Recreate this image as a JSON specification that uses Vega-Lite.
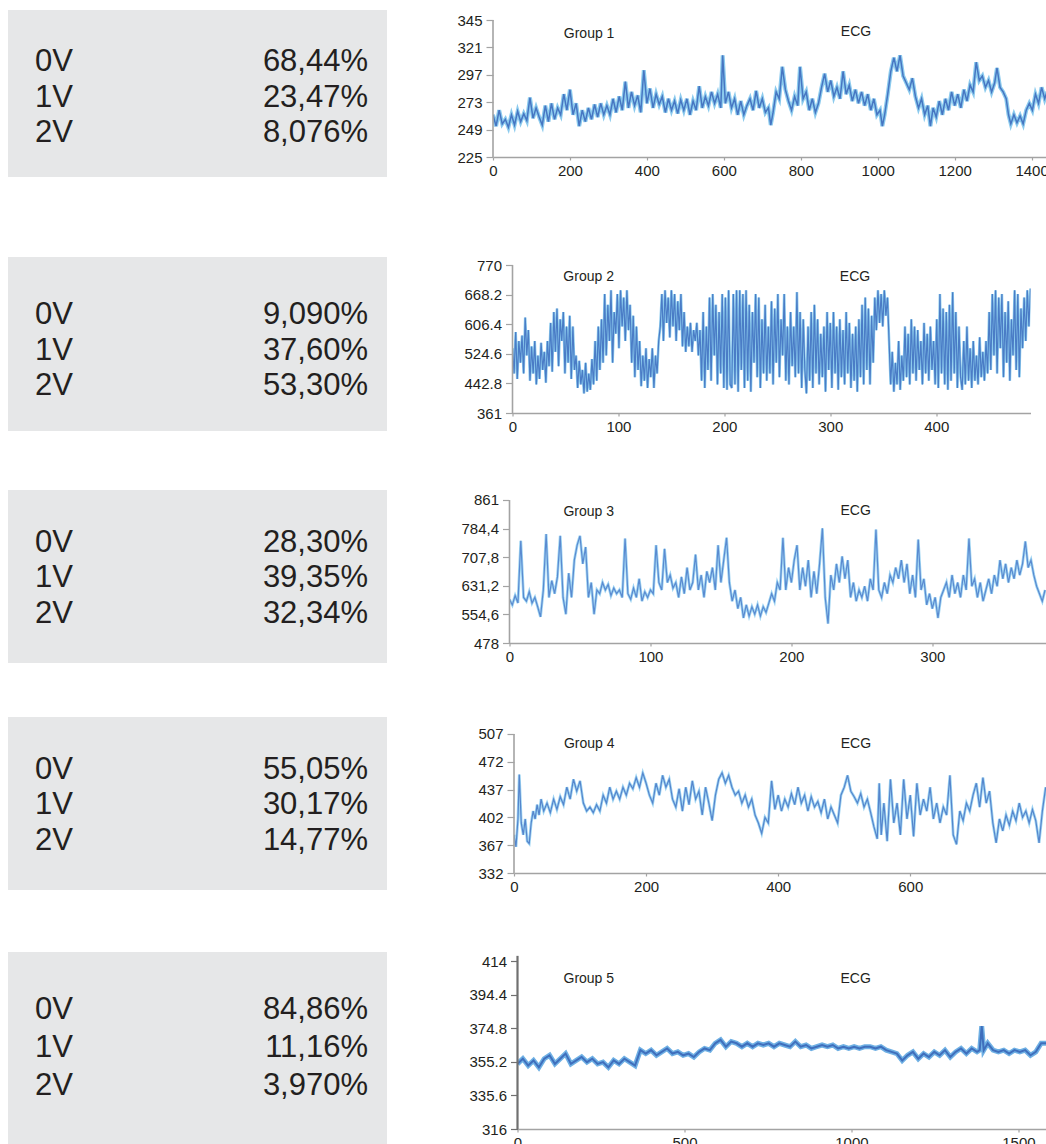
{
"$schema":"https://vega.github.io/schema/vega-lite/v6.json",
"padding":{"left":8,"top":10,"right":0,"bottom":0},
"background":"white",
"config":{"view":{"stroke":null},"font":"Liberation Sans",
 "axis":{"grid":false,"labelFont":"Liberation Sans","labelFontSize":15,"labelColor":"#231f20","domainColor":"#a3a3a3","domainWidth":1.6,"tickColor":"#a3a3a3","tickWidth":1.2,"labelOverlap":false,"tickCount":20},
 "axisY":{"tickSize":7,"labelPadding":4,"domain":false},
 "axisX":{"tickSize":3,"labelPadding":3,"labelFlush":false,"format":"d"}},
"datasets":{
"stats":[{"g":1,"volt":"0V","pct":"68,44%"},{"g":1,"volt":"1V","pct":"23,47%"},{"g":1,"volt":"2V","pct":"8,076%"},
{"g":2,"volt":"0V","pct":"9,090%"},{"g":2,"volt":"1V","pct":"37,60%"},{"g":2,"volt":"2V","pct":"53,30%"},
{"g":3,"volt":"0V","pct":"28,30%"},{"g":3,"volt":"1V","pct":"39,35%"},{"g":3,"volt":"2V","pct":"32,34%"},
{"g":4,"volt":"0V","pct":"55,05%"},{"g":4,"volt":"1V","pct":"30,17%"},{"g":4,"volt":"2V","pct":"14,77%"},
{"g":5,"volt":"0V","pct":"84,86%"},{"g":5,"volt":"1V","pct":"11,16%"},{"g":5,"volt":"2V","pct":"3,970%"}],
"g1":[{"t":0,"v":262},{"t":8,"v":252},{"t":16,"v":266},{"t":24,"v":254},{"t":32,"v":258},{"t":40,"v":251},{"t":48,"v":262},{"t":56,"v":253},{"t":64,"v":265},{"t":72,"v":256},{"t":80,"v":263},{"t":88,"v":257},{"t":96,"v":277},{"t":104,"v":259},{"t":112,"v":268},{"t":120,"v":260},{"t":128,"v":253},{"t":136,"v":270},{"t":144,"v":256},{"t":152,"v":272},{"t":160,"v":258},{"t":168,"v":268},{"t":176,"v":262},{"t":184,"v":280},{"t":192,"v":266},{"t":200,"v":284},{"t":208,"v":262},{"t":216,"v":272},{"t":224,"v":252},{"t":232,"v":266},{"t":240,"v":256},{"t":248,"v":268},{"t":256,"v":258},{"t":264,"v":271},{"t":272,"v":260},{"t":280,"v":272},{"t":288,"v":262},{"t":296,"v":270},{"t":304,"v":262},{"t":312,"v":276},{"t":320,"v":264},{"t":328,"v":278},{"t":336,"v":266},{"t":344,"v":291},{"t":352,"v":268},{"t":360,"v":282},{"t":368,"v":270},{"t":376,"v":279},{"t":384,"v":264},{"t":392,"v":301},{"t":400,"v":272},{"t":408,"v":285},{"t":416,"v":268},{"t":424,"v":280},{"t":432,"v":271},{"t":440,"v":278},{"t":448,"v":264},{"t":456,"v":276},{"t":464,"v":266},{"t":472,"v":274},{"t":480,"v":263},{"t":488,"v":275},{"t":496,"v":266},{"t":504,"v":276},{"t":512,"v":262},{"t":520,"v":274},{"t":528,"v":266},{"t":536,"v":287},{"t":544,"v":268},{"t":552,"v":278},{"t":560,"v":270},{"t":568,"v":282},{"t":576,"v":272},{"t":584,"v":280},{"t":592,"v":268},{"t":597,"v":314},{"t":604,"v":272},{"t":612,"v":282},{"t":620,"v":268},{"t":628,"v":276},{"t":636,"v":262},{"t":644,"v":274},{"t":652,"v":262},{"t":660,"v":270},{"t":668,"v":276},{"t":676,"v":266},{"t":684,"v":283},{"t":692,"v":268},{"t":700,"v":276},{"t":708,"v":264},{"t":716,"v":268},{"t":722,"v":253},{"t":728,"v":264},{"t":736,"v":282},{"t":744,"v":276},{"t":752,"v":304},{"t":760,"v":284},{"t":768,"v":274},{"t":776,"v":266},{"t":784,"v":278},{"t":792,"v":270},{"t":798,"v":304},{"t":806,"v":276},{"t":814,"v":282},{"t":822,"v":266},{"t":830,"v":276},{"t":838,"v":264},{"t":846,"v":272},{"t":854,"v":286},{"t":862,"v":298},{"t":870,"v":282},{"t":878,"v":292},{"t":886,"v":278},{"t":894,"v":286},{"t":902,"v":276},{"t":910,"v":300},{"t":918,"v":280},{"t":926,"v":288},{"t":934,"v":274},{"t":942,"v":284},{"t":950,"v":272},{"t":958,"v":282},{"t":966,"v":270},{"t":974,"v":280},{"t":982,"v":266},{"t":990,"v":276},{"t":998,"v":262},{"t":1006,"v":266},{"t":1012,"v":252},{"t":1018,"v":262},{"t":1026,"v":280},{"t":1034,"v":300},{"t":1042,"v":312},{"t":1050,"v":300},{"t":1058,"v":314},{"t":1066,"v":296},{"t":1074,"v":290},{"t":1082,"v":284},{"t":1090,"v":294},{"t":1098,"v":278},{"t":1106,"v":268},{"t":1114,"v":276},{"t":1122,"v":262},{"t":1130,"v":270},{"t":1137,"v":252},{"t":1144,"v":268},{"t":1152,"v":260},{"t":1160,"v":274},{"t":1168,"v":262},{"t":1176,"v":276},{"t":1184,"v":266},{"t":1192,"v":282},{"t":1200,"v":270},{"t":1208,"v":280},{"t":1216,"v":268},{"t":1224,"v":284},{"t":1232,"v":274},{"t":1240,"v":288},{"t":1248,"v":282},{"t":1256,"v":308},{"t":1264,"v":292},{"t":1272,"v":296},{"t":1280,"v":286},{"t":1288,"v":292},{"t":1296,"v":282},{"t":1304,"v":290},{"t":1310,"v":303},{"t":1318,"v":286},{"t":1326,"v":282},{"t":1334,"v":276},{"t":1340,"v":262},{"t":1346,"v":254},{"t":1354,"v":262},{"t":1362,"v":255},{"t":1370,"v":261},{"t":1378,"v":254},{"t":1386,"v":266},{"t":1394,"v":272},{"t":1402,"v":266},{"t":1410,"v":280},{"t":1418,"v":272},{"t":1426,"v":286},{"t":1434,"v":276},{"t":1440,"v":282}],
"g2":[{"t":0,"v":540},{"t":1.5,"v":470},{"t":3,"v":585},{"t":4.5,"v":455},{"t":6,"v":560},{"t":7.5,"v":500},{"t":9,"v":575},{"t":10.5,"v":470},{"t":12,"v":625},{"t":13.5,"v":520},{"t":15,"v":590},{"t":16.5,"v":450},{"t":18,"v":545},{"t":19.5,"v":470},{"t":21,"v":560},{"t":22.5,"v":440},{"t":24,"v":520},{"t":25.5,"v":455},{"t":27,"v":555},{"t":28.5,"v":480},{"t":30,"v":530},{"t":31.5,"v":445},{"t":33,"v":560},{"t":34.5,"v":490},{"t":36,"v":610},{"t":37.5,"v":475},{"t":39,"v":640},{"t":40.5,"v":530},{"t":42,"v":650},{"t":43.5,"v":490},{"t":45,"v":620},{"t":46.5,"v":560},{"t":48,"v":640},{"t":49.5,"v":470},{"t":51,"v":600},{"t":52.5,"v":500},{"t":54,"v":630},{"t":55.5,"v":455},{"t":57,"v":600},{"t":58.5,"v":480},{"t":60,"v":520},{"t":61.5,"v":430},{"t":63,"v":505},{"t":64.5,"v":440},{"t":66,"v":480},{"t":67.5,"v":415},{"t":69,"v":500},{"t":70.5,"v":420},{"t":72,"v":470},{"t":73.5,"v":425},{"t":75,"v":510},{"t":76.5,"v":440},{"t":78,"v":560},{"t":79.5,"v":450},{"t":81,"v":600},{"t":82.5,"v":480},{"t":84,"v":620},{"t":85.5,"v":500},{"t":87,"v":690},{"t":88.5,"v":520},{"t":90,"v":660},{"t":91.5,"v":560},{"t":93,"v":700},{"t":94.5,"v":500},{"t":96,"v":640},{"t":97.5,"v":580},{"t":99,"v":690},{"t":100.5,"v":540},{"t":102,"v":700},{"t":103.5,"v":600},{"t":105,"v":680},{"t":106.5,"v":560},{"t":108,"v":700},{"t":109.5,"v":590},{"t":111,"v":660},{"t":112.5,"v":500},{"t":114,"v":630},{"t":115.5,"v":460},{"t":117,"v":600},{"t":118.5,"v":480},{"t":120,"v":560},{"t":121.5,"v":435},{"t":123,"v":520},{"t":124.5,"v":450},{"t":126,"v":540},{"t":127.5,"v":430},{"t":129,"v":510},{"t":130.5,"v":460},{"t":132,"v":540},{"t":133.5,"v":430},{"t":135,"v":520},{"t":136.5,"v":470},{"t":138,"v":560},{"t":139.5,"v":600},{"t":141,"v":690},{"t":142.5,"v":560},{"t":144,"v":700},{"t":145.5,"v":610},{"t":147,"v":680},{"t":148.5,"v":570},{"t":150,"v":700},{"t":151.5,"v":600},{"t":153,"v":690},{"t":154.5,"v":560},{"t":156,"v":670},{"t":157.5,"v":590},{"t":159,"v":690},{"t":160.5,"v":545},{"t":162,"v":640},{"t":163.5,"v":530},{"t":165,"v":600},{"t":166.5,"v":545},{"t":168,"v":610},{"t":169.5,"v":530},{"t":171,"v":590},{"t":172.5,"v":560},{"t":174,"v":610},{"t":175.5,"v":520},{"t":177,"v":590},{"t":178.5,"v":450},{"t":180,"v":640},{"t":181.5,"v":430},{"t":183,"v":600},{"t":184.5,"v":480},{"t":186,"v":680},{"t":187.5,"v":450},{"t":189,"v":690},{"t":190.5,"v":520},{"t":192,"v":660},{"t":193.5,"v":440},{"t":195,"v":640},{"t":196.5,"v":470},{"t":198,"v":690},{"t":199.5,"v":430},{"t":201,"v":680},{"t":202.5,"v":425},{"t":204,"v":700},{"t":205.5,"v":440},{"t":207,"v":430},{"t":208.5,"v":690},{"t":210,"v":440},{"t":211.5,"v":700},{"t":213,"v":420},{"t":214.5,"v":700},{"t":216,"v":480},{"t":217.5,"v":690},{"t":219,"v":430},{"t":220.5,"v":700},{"t":222,"v":450},{"t":223.5,"v":660},{"t":225,"v":420},{"t":226.5,"v":640},{"t":228,"v":500},{"t":229.5,"v":690},{"t":231,"v":460},{"t":232.5,"v":680},{"t":234,"v":430},{"t":235.5,"v":620},{"t":237,"v":470},{"t":238.5,"v":660},{"t":240,"v":450},{"t":241.5,"v":600},{"t":243,"v":470},{"t":244.5,"v":670},{"t":246,"v":440},{"t":247.5,"v":650},{"t":249,"v":500},{"t":250.5,"v":690},{"t":252,"v":460},{"t":253.5,"v":620},{"t":255,"v":520},{"t":256.5,"v":690},{"t":258,"v":450},{"t":259.5,"v":600},{"t":261,"v":440},{"t":262.5,"v":640},{"t":264,"v":490},{"t":265.5,"v":600},{"t":267,"v":460},{"t":268.5,"v":695},{"t":270,"v":470},{"t":271.5,"v":640},{"t":273,"v":430},{"t":274.5,"v":620},{"t":276,"v":480},{"t":277.5,"v":415},{"t":279,"v":600},{"t":280.5,"v":450},{"t":282,"v":640},{"t":283.5,"v":430},{"t":285,"v":660},{"t":286.5,"v":470},{"t":288,"v":620},{"t":289.5,"v":440},{"t":291,"v":580},{"t":292.5,"v":460},{"t":294,"v":600},{"t":295.5,"v":420},{"t":297,"v":640},{"t":298.5,"v":480},{"t":300,"v":610},{"t":301.5,"v":430},{"t":303,"v":640},{"t":304.5,"v":470},{"t":306,"v":600},{"t":307.5,"v":425},{"t":309,"v":620},{"t":310.5,"v":460},{"t":312,"v":590},{"t":313.5,"v":440},{"t":315,"v":640},{"t":316.5,"v":470},{"t":318,"v":610},{"t":319.5,"v":430},{"t":321,"v":580},{"t":322.5,"v":450},{"t":324,"v":600},{"t":325.5,"v":420},{"t":327,"v":620},{"t":328.5,"v":460},{"t":330,"v":660},{"t":331.5,"v":440},{"t":333,"v":680},{"t":334.5,"v":480},{"t":336,"v":650},{"t":337.5,"v":440},{"t":339,"v":630},{"t":340.5,"v":500},{"t":342,"v":680},{"t":343.5,"v":590},{"t":345,"v":700},{"t":346.5,"v":610},{"t":348,"v":690},{"t":349.5,"v":600},{"t":351,"v":700},{"t":352.5,"v":630},{"t":354,"v":680},{"t":355.5,"v":560},{"t":357,"v":440},{"t":358.5,"v":530},{"t":360,"v":420},{"t":361.5,"v":500},{"t":363,"v":440},{"t":364.5,"v":560},{"t":366,"v":425},{"t":367.5,"v":520},{"t":369,"v":450},{"t":370.5,"v":600},{"t":372,"v":460},{"t":373.5,"v":580},{"t":375,"v":440},{"t":376.5,"v":620},{"t":378,"v":470},{"t":379.5,"v":600},{"t":381,"v":450},{"t":382.5,"v":590},{"t":384,"v":480},{"t":385.5,"v":560},{"t":387,"v":440},{"t":388.5,"v":610},{"t":390,"v":470},{"t":391.5,"v":580},{"t":393,"v":450},{"t":394.5,"v":600},{"t":396,"v":480},{"t":397.5,"v":560},{"t":399,"v":440},{"t":400.5,"v":620},{"t":402,"v":430},{"t":403.5,"v":690},{"t":405,"v":470},{"t":406.5,"v":650},{"t":408,"v":440},{"t":409.5,"v":640},{"t":411,"v":425},{"t":412.5,"v":660},{"t":414,"v":450},{"t":415.5,"v":695},{"t":417,"v":470},{"t":418.5,"v":640},{"t":420,"v":430},{"t":421.5,"v":600},{"t":423,"v":460},{"t":424.5,"v":425},{"t":426,"v":560},{"t":427.5,"v":440},{"t":429,"v":600},{"t":430.5,"v":450},{"t":432,"v":540},{"t":433.5,"v":430},{"t":435,"v":560},{"t":436.5,"v":450},{"t":438,"v":520},{"t":439.5,"v":440},{"t":441,"v":570},{"t":442.5,"v":460},{"t":444,"v":530},{"t":445.5,"v":450},{"t":447,"v":560},{"t":448.5,"v":470},{"t":450,"v":640},{"t":451.5,"v":480},{"t":453,"v":690},{"t":454.5,"v":520},{"t":456,"v":700},{"t":457.5,"v":470},{"t":459,"v":680},{"t":460.5,"v":540},{"t":462,"v":690},{"t":463.5,"v":460},{"t":465,"v":640},{"t":466.5,"v":500},{"t":468,"v":670},{"t":469.5,"v":450},{"t":471,"v":620},{"t":472.5,"v":520},{"t":474,"v":700},{"t":475.5,"v":480},{"t":477,"v":690},{"t":478.5,"v":460},{"t":480,"v":650},{"t":481.5,"v":540},{"t":483,"v":680},{"t":484.5,"v":560},{"t":486,"v":700},{"t":487.5,"v":600},{"t":489,"v":705}],
"g3":[{"t":0,"v":595},{"t":2,"v":580},{"t":4,"v":605},{"t":6,"v":585},{"t":8,"v":752},{"t":10,"v":600},{"t":12,"v":590},{"t":14,"v":615},{"t":16,"v":585},{"t":18,"v":600},{"t":20,"v":575},{"t":22,"v":548},{"t":24,"v":620},{"t":26,"v":770},{"t":28,"v":600},{"t":30,"v":645},{"t":32,"v":610},{"t":34,"v":655},{"t":36,"v":765},{"t":38,"v":600},{"t":40,"v":555},{"t":42,"v":665},{"t":44,"v":600},{"t":46,"v":700},{"t":48,"v":740},{"t":50,"v":765},{"t":52,"v":690},{"t":54,"v":735},{"t":56,"v":600},{"t":58,"v":640},{"t":60,"v":555},{"t":62,"v":620},{"t":64,"v":610},{"t":66,"v":640},{"t":68,"v":620},{"t":70,"v":635},{"t":72,"v":605},{"t":74,"v":625},{"t":76,"v":610},{"t":78,"v":620},{"t":80,"v":600},{"t":82,"v":758},{"t":84,"v":610},{"t":86,"v":595},{"t":88,"v":625},{"t":90,"v":600},{"t":92,"v":650},{"t":94,"v":590},{"t":96,"v":615},{"t":98,"v":600},{"t":100,"v":620},{"t":102,"v":610},{"t":104,"v":740},{"t":106,"v":640},{"t":108,"v":620},{"t":110,"v":730},{"t":112,"v":640},{"t":114,"v":660},{"t":116,"v":625},{"t":118,"v":640},{"t":120,"v":600},{"t":122,"v":655},{"t":124,"v":610},{"t":126,"v":680},{"t":128,"v":620},{"t":130,"v":640},{"t":132,"v":715},{"t":134,"v":620},{"t":136,"v":660},{"t":138,"v":600},{"t":140,"v":670},{"t":142,"v":640},{"t":144,"v":680},{"t":146,"v":620},{"t":148,"v":740},{"t":150,"v":640},{"t":152,"v":700},{"t":154,"v":760},{"t":156,"v":640},{"t":158,"v":590},{"t":160,"v":620},{"t":162,"v":570},{"t":164,"v":600},{"t":166,"v":545},{"t":168,"v":580},{"t":170,"v":550},{"t":172,"v":575},{"t":174,"v":555},{"t":176,"v":580},{"t":178,"v":550},{"t":180,"v":575},{"t":182,"v":560},{"t":184,"v":585},{"t":186,"v":610},{"t":188,"v":590},{"t":190,"v":640},{"t":192,"v":620},{"t":194,"v":760},{"t":196,"v":620},{"t":198,"v":680},{"t":200,"v":640},{"t":202,"v":700},{"t":204,"v":740},{"t":206,"v":620},{"t":208,"v":680},{"t":210,"v":630},{"t":212,"v":700},{"t":214,"v":600},{"t":216,"v":670},{"t":218,"v":610},{"t":220,"v":690},{"t":222,"v":785},{"t":224,"v":600},{"t":226,"v":530},{"t":228,"v":660},{"t":230,"v":620},{"t":232,"v":690},{"t":234,"v":640},{"t":236,"v":710},{"t":238,"v":650},{"t":240,"v":700},{"t":242,"v":600},{"t":244,"v":640},{"t":246,"v":590},{"t":248,"v":620},{"t":250,"v":600},{"t":252,"v":630},{"t":254,"v":590},{"t":256,"v":650},{"t":258,"v":620},{"t":260,"v":782},{"t":262,"v":620},{"t":264,"v":600},{"t":266,"v":640},{"t":268,"v":610},{"t":270,"v":660},{"t":272,"v":640},{"t":274,"v":680},{"t":276,"v":650},{"t":278,"v":700},{"t":280,"v":640},{"t":282,"v":690},{"t":284,"v":610},{"t":286,"v":660},{"t":288,"v":600},{"t":290,"v":755},{"t":292,"v":620},{"t":294,"v":650},{"t":296,"v":580},{"t":298,"v":610},{"t":300,"v":570},{"t":302,"v":600},{"t":304,"v":545},{"t":306,"v":600},{"t":308,"v":620},{"t":310,"v":640},{"t":312,"v":600},{"t":314,"v":660},{"t":316,"v":610},{"t":318,"v":640},{"t":320,"v":600},{"t":322,"v":660},{"t":324,"v":620},{"t":326,"v":758},{"t":328,"v":630},{"t":330,"v":650},{"t":332,"v":600},{"t":334,"v":640},{"t":336,"v":590},{"t":338,"v":620},{"t":340,"v":650},{"t":342,"v":610},{"t":344,"v":660},{"t":346,"v":630},{"t":348,"v":700},{"t":350,"v":650},{"t":352,"v":690},{"t":354,"v":640},{"t":356,"v":680},{"t":358,"v":650},{"t":360,"v":700},{"t":362,"v":660},{"t":364,"v":690},{"t":366,"v":750},{"t":368,"v":680},{"t":370,"v":700},{"t":372,"v":660},{"t":374,"v":630},{"t":376,"v":610},{"t":378,"v":590},{"t":380,"v":620}],
"g4":[{"t":0,"v":380},{"t":3,"v":365},{"t":6,"v":400},{"t":8,"v":456},{"t":11,"v":395},{"t":14,"v":380},{"t":17,"v":400},{"t":20,"v":372},{"t":23,"v":369},{"t":26,"v":395},{"t":29,"v":410},{"t":32,"v":400},{"t":35,"v":418},{"t":38,"v":405},{"t":41,"v":425},{"t":45,"v":410},{"t":50,"v":420},{"t":55,"v":408},{"t":60,"v":425},{"t":65,"v":412},{"t":70,"v":428},{"t":75,"v":418},{"t":80,"v":440},{"t":85,"v":425},{"t":90,"v":450},{"t":95,"v":435},{"t":100,"v":448},{"t":105,"v":420},{"t":110,"v":410},{"t":115,"v":415},{"t":120,"v":408},{"t":125,"v":418},{"t":130,"v":410},{"t":135,"v":430},{"t":140,"v":420},{"t":145,"v":440},{"t":150,"v":425},{"t":155,"v":435},{"t":160,"v":425},{"t":165,"v":440},{"t":170,"v":430},{"t":175,"v":445},{"t":180,"v":438},{"t":185,"v":452},{"t":190,"v":440},{"t":195,"v":458},{"t":200,"v":445},{"t":205,"v":430},{"t":210,"v":420},{"t":215,"v":445},{"t":220,"v":430},{"t":225,"v":455},{"t":230,"v":440},{"t":235,"v":450},{"t":240,"v":425},{"t":245,"v":415},{"t":250,"v":438},{"t":255,"v":410},{"t":260,"v":440},{"t":265,"v":418},{"t":270,"v":448},{"t":275,"v":425},{"t":280,"v":435},{"t":285,"v":405},{"t":290,"v":440},{"t":295,"v":420},{"t":300,"v":398},{"t":305,"v":430},{"t":310,"v":450},{"t":315,"v":458},{"t":320,"v":445},{"t":325,"v":455},{"t":330,"v":440},{"t":335,"v":430},{"t":340,"v":435},{"t":345,"v":420},{"t":350,"v":430},{"t":355,"v":415},{"t":360,"v":425},{"t":365,"v":405},{"t":370,"v":395},{"t":375,"v":382},{"t":380,"v":402},{"t":385,"v":395},{"t":390,"v":448},{"t":395,"v":412},{"t":400,"v":430},{"t":405,"v":410},{"t":410,"v":425},{"t":415,"v":415},{"t":420,"v":432},{"t":425,"v":418},{"t":430,"v":440},{"t":435,"v":420},{"t":440,"v":430},{"t":445,"v":410},{"t":450,"v":428},{"t":455,"v":415},{"t":460,"v":422},{"t":465,"v":408},{"t":470,"v":425},{"t":475,"v":400},{"t":480,"v":415},{"t":485,"v":405},{"t":490,"v":395},{"t":495,"v":430},{"t":500,"v":440},{"t":505,"v":455},{"t":510,"v":435},{"t":515,"v":428},{"t":520,"v":420},{"t":525,"v":432},{"t":530,"v":415},{"t":535,"v":425},{"t":540,"v":408},{"t":545,"v":390},{"t":550,"v":375},{"t":553,"v":445},{"t":556,"v":380},{"t":560,"v":420},{"t":565,"v":372},{"t":570,"v":450},{"t":575,"v":395},{"t":580,"v":420},{"t":585,"v":380},{"t":590,"v":450},{"t":595,"v":400},{"t":600,"v":430},{"t":605,"v":378},{"t":610,"v":445},{"t":615,"v":405},{"t":620,"v":425},{"t":625,"v":410},{"t":630,"v":440},{"t":635,"v":400},{"t":640,"v":420},{"t":645,"v":395},{"t":650,"v":415},{"t":655,"v":405},{"t":660,"v":455},{"t":665,"v":380},{"t":670,"v":368},{"t":675,"v":410},{"t":680,"v":398},{"t":685,"v":420},{"t":690,"v":410},{"t":695,"v":430},{"t":700,"v":445},{"t":705,"v":415},{"t":710,"v":452},{"t":715,"v":420},{"t":720,"v":435},{"t":725,"v":395},{"t":730,"v":370},{"t":735,"v":400},{"t":740,"v":385},{"t":745,"v":405},{"t":750,"v":392},{"t":755,"v":410},{"t":760,"v":398},{"t":765,"v":420},{"t":770,"v":402},{"t":775,"v":410},{"t":780,"v":395},{"t":785,"v":412},{"t":790,"v":398},{"t":795,"v":370},{"t":800,"v":410},{"t":805,"v":440}],
"g5":[{"t":0,"v":354},{"t":16,"v":357},{"t":32,"v":353},{"t":48,"v":356},{"t":64,"v":352},{"t":80,"v":357},{"t":96,"v":359},{"t":112,"v":354},{"t":128,"v":357},{"t":144,"v":360},{"t":160,"v":354},{"t":176,"v":356},{"t":192,"v":358},{"t":208,"v":355},{"t":224,"v":357},{"t":240,"v":354},{"t":256,"v":355},{"t":272,"v":352},{"t":288,"v":356},{"t":304,"v":354},{"t":320,"v":357},{"t":336,"v":355},{"t":352,"v":353},{"t":368,"v":362},{"t":384,"v":360},{"t":400,"v":362},{"t":416,"v":359},{"t":432,"v":361},{"t":448,"v":363},{"t":464,"v":360},{"t":480,"v":361},{"t":496,"v":359},{"t":512,"v":360},{"t":528,"v":358},{"t":544,"v":361},{"t":560,"v":363},{"t":576,"v":362},{"t":592,"v":366},{"t":608,"v":368},{"t":624,"v":364},{"t":640,"v":367},{"t":656,"v":366},{"t":672,"v":364},{"t":688,"v":366},{"t":704,"v":364},{"t":720,"v":366},{"t":736,"v":365},{"t":752,"v":366},{"t":768,"v":364},{"t":784,"v":366},{"t":800,"v":365},{"t":816,"v":364},{"t":832,"v":367},{"t":848,"v":364},{"t":864,"v":365},{"t":880,"v":363},{"t":896,"v":364},{"t":912,"v":365},{"t":928,"v":364},{"t":944,"v":365},{"t":960,"v":363},{"t":976,"v":364},{"t":992,"v":363},{"t":1008,"v":364},{"t":1024,"v":363},{"t":1040,"v":364},{"t":1056,"v":364},{"t":1072,"v":363},{"t":1088,"v":364},{"t":1104,"v":362},{"t":1120,"v":361},{"t":1136,"v":360},{"t":1152,"v":356},{"t":1168,"v":359},{"t":1184,"v":361},{"t":1200,"v":357},{"t":1216,"v":360},{"t":1232,"v":358},{"t":1248,"v":361},{"t":1264,"v":359},{"t":1280,"v":362},{"t":1296,"v":358},{"t":1312,"v":361},{"t":1328,"v":363},{"t":1344,"v":360},{"t":1360,"v":363},{"t":1376,"v":361},{"t":1384,"v":362},{"t":1390,"v":376},{"t":1396,"v":362},{"t":1408,"v":366},{"t":1424,"v":362},{"t":1440,"v":361},{"t":1456,"v":362},{"t":1472,"v":360},{"t":1488,"v":362},{"t":1504,"v":361},{"t":1520,"v":362},{"t":1536,"v":359},{"t":1552,"v":361},{"t":1568,"v":366},{"t":1584,"v":366}]
},
"spacing":79,
"vconcat":[
 {"concat":[
  {"width":379,"height":167,"view":{"fill":"#e6e7e8","stroke":null},
   "data":{"name":"stats"},"transform":[{"filter":"datum.g == 1"},{"fold":["volt","pct"]}],
   "encoding":{"x":{"field":"key","type":"nominal","scale":{"type":"point","domain":["volt","pct"],"padding":0.069,"align":0.587},"axis":null},
               "y":{"field":"volt","type":"nominal","scale":{"type":"band","domain":["0V","1V","2V"],"paddingInner":0,"paddingOuter":0.852,"align":0.573},"axis":null},
               "text":{"field":"value"}},
   "layer":[
    {"transform":[{"filter":"datum.key == 'volt'"}],"mark":{"type":"text","align":"left","baseline":"middle","fontSize":31,"font":"Liberation Sans","color":"#231f20"}},
    {"transform":[{"filter":"datum.key == 'pct'"}],"mark":{"type":"text","align":"right","baseline":"middle","fontSize":31,"font":"Liberation Sans","color":"#231f20"}}]},
  {"width":554,"height":147,
   "layer":[
    {"data":{"name":"g1"},"mark":{"type":"line","stroke":"#8ccbee","strokeWidth":4,"clip":true},
     "encoding":{"x":{"field":"t","type":"quantitative","scale":{"domain":[0,1440],"nice":false,"zero":false},"axis":{"title":null,"values":[0,200,400,600,800,1000,1200,1400],"tickCount":20}},
                 "y":{"field":"v","type":"quantitative","scale":{"domain":[225,353.76],"nice":false,"zero":false},"axis":{"title":null,"values":[225,249,273,297,321,345],"tickCount":20}}}},
    {"data":{"name":"g1"},"mark":{"type":"line","stroke":"#4676c2","strokeWidth":1.5,"clip":true},
     "encoding":{"x":{"field":"t","type":"quantitative"},"y":{"field":"v","type":"quantitative"}}},
    {"data":{"values":[{}]},"mark":{"type":"rule","color":"#a3a3a3","strokeWidth":1.6},
     "encoding":{"x":{"datum":0},"y":{"datum":225},"y2":{"datum":345}}},
    {"data":{"values":[{"label":"Group 1"}]},"mark":{"type":"text","align":"left","baseline":"middle","fontSize":14,"font":"Liberation Sans","color":"#231f20"},
     "encoding":{"x":{"datum":184},"y":{"datum":332.7},"text":{"field":"label"}}},
    {"data":{"values":[{"label":"ECG"}]},"mark":{"type":"text","align":"left","baseline":"middle","fontSize":14,"font":"Liberation Sans","color":"#231f20"},
     "encoding":{"x":{"datum":904},"y":{"datum":334.5},"text":{"field":"label"}}}]}
 ],"columns":2,"align":"none","spacing":69},
 {"spacing":56,"vconcat":[
  {"concat":[
   {"width":379,"height":174,"view":{"fill":"#e6e7e8","stroke":null},
    "data":{"name":"stats"},"transform":[{"filter":"datum.g == 2"},{"fold":["volt","pct"]}],
    "encoding":{"x":{"field":"key","type":"nominal","scale":{"type":"point","domain":["volt","pct"],"padding":0.069,"align":0.587},"axis":null},
                "y":{"field":"volt","type":"nominal","scale":{"type":"band","domain":["0V","1V","2V"],"paddingInner":0,"paddingOuter":0.951,"align":0.6},"axis":null},
                "text":{"field":"value"}},
    "layer":[
     {"transform":[{"filter":"datum.key == 'volt'"}],"mark":{"type":"text","align":"left","baseline":"middle","fontSize":31,"font":"Liberation Sans","color":"#231f20"}},
     {"transform":[{"filter":"datum.key == 'pct'"}],"mark":{"type":"text","align":"right","baseline":"middle","fontSize":31,"font":"Liberation Sans","color":"#231f20"}}]},
   {"width":518,"height":156,
    "layer":[
     {"data":{"name":"g2"},"mark":{"type":"line","stroke":"#8ccbee","strokeWidth":2.6,"clip":true},
      "encoding":{"x":{"field":"t","type":"quantitative","scale":{"domain":[0,489],"nice":false,"zero":false},"axis":{"title":null,"values":[0,100,200,300,400],"tickCount":20}},
                  "y":{"field":"v","type":"quantitative","scale":{"domain":[361,792.11],"nice":false,"zero":false},"axis":{"title":null,"values":[361,442.8,524.6,606.4,688.2,770],"tickCount":20,"labelExpr":"datum.value == 688.2 ? '668.2' : toString(datum.value)"}}}},
     {"data":{"name":"g2"},"mark":{"type":"line","stroke":"#4a7cc6","strokeWidth":1.2,"clip":true},
      "encoding":{"x":{"field":"t","type":"quantitative"},"y":{"field":"v","type":"quantitative"}}},
     {"data":{"values":[{}]},"mark":{"type":"rule","color":"#a3a3a3","strokeWidth":1.6},
      "encoding":{"x":{"datum":0},"y":{"datum":361},"y2":{"datum":770}}},
     {"data":{"values":[{"label":"Group 2"}]},"mark":{"type":"text","align":"left","baseline":"middle","fontSize":14,"font":"Liberation Sans","color":"#231f20"},
      "encoding":{"x":{"datum":48},"y":{"datum":736.8},"text":{"field":"label"}}},
     {"data":{"values":[{"label":"ECG"}]},"mark":{"type":"text","align":"left","baseline":"middle","fontSize":14,"font":"Liberation Sans","color":"#231f20"},
      "encoding":{"x":{"datum":309},"y":{"datum":736.8},"text":{"field":"label"}}}]}
  ],"columns":2,"align":"none","spacing":76.5},
  {"spacing":53,"vconcat":[
   {"concat":[
    {"width":379,"height":173,"view":{"fill":"#e6e7e8","stroke":null},
     "data":{"name":"stats"},"transform":[{"filter":"datum.g == 3"},{"fold":["volt","pct"]}],
     "encoding":{"x":{"field":"key","type":"nominal","scale":{"type":"point","domain":["volt","pct"],"padding":0.069,"align":0.587},"axis":null},
                 "y":{"field":"volt","type":"nominal","scale":{"type":"band","domain":["0V","1V","2V"],"paddingInner":0,"paddingOuter":0.937,"align":0.53},"axis":null},
                 "text":{"field":"value"}},
     "layer":[
      {"transform":[{"filter":"datum.key == 'volt'"}],"mark":{"type":"text","align":"left","baseline":"middle","fontSize":31,"font":"Liberation Sans","color":"#231f20"}},
      {"transform":[{"filter":"datum.key == 'pct'"}],"mark":{"type":"text","align":"right","baseline":"middle","fontSize":31,"font":"Liberation Sans","color":"#231f20"}}]},
    {"width":537,"height":153,
     "layer":[
      {"data":{"name":"g3"},"mark":{"type":"line","stroke":"#9fd5f3","strokeWidth":2.8,"clip":true},
       "encoding":{"x":{"field":"t","type":"quantitative","scale":{"domain":[0,381],"nice":false,"zero":false},"axis":{"title":null,"values":[0,100,200,300],"tickCount":20}},
                   "y":{"field":"v","type":"quantitative","scale":{"domain":[478,887.78],"nice":false,"zero":false},"axis":{"title":null,"values":[478,554.6,631.2,707.8,784.4,861],"tickCount":20,"labelExpr":"replace(toString(datum.value), '.', ',')"}}}},
      {"data":{"name":"g3"},"mark":{"type":"line","stroke":"#5a8ad0","strokeWidth":1.2,"clip":true},
       "encoding":{"x":{"field":"t","type":"quantitative"},"y":{"field":"v","type":"quantitative"}}},
      {"data":{"values":[{}]},"mark":{"type":"rule","color":"#a3a3a3","strokeWidth":1.6},
       "encoding":{"x":{"datum":0},"y":{"datum":478},"y2":{"datum":861}}},
      {"data":{"values":[{"label":"Group 3"}]},"mark":{"type":"text","align":"left","baseline":"middle","fontSize":14,"font":"Liberation Sans","color":"#231f20"},
       "encoding":{"x":{"datum":38.3},"y":{"datum":829},"text":{"field":"label"}}},
      {"data":{"values":[{"label":"ECG"}]},"mark":{"type":"text","align":"left","baseline":"middle","fontSize":14,"font":"Liberation Sans","color":"#231f20"},
       "encoding":{"x":{"datum":234.8},"y":{"datum":831},"text":{"field":"label"}}}]}
   ],"columns":2,"align":"none","spacing":73.5},
   {"spacing":58,"vconcat":[
    {"concat":[
     {"width":379,"height":173,"view":{"fill":"#e6e7e8","stroke":null},
      "data":{"name":"stats"},"transform":[{"filter":"datum.g == 4"},{"fold":["volt","pct"]}],
      "encoding":{"x":{"field":"key","type":"nominal","scale":{"type":"point","domain":["volt","pct"],"padding":0.069,"align":0.587},"axis":null},
                  "y":{"field":"volt","type":"nominal","scale":{"type":"band","domain":["0V","1V","2V"],"paddingInner":0,"paddingOuter":0.937,"align":0.53},"axis":null},
                  "text":{"field":"value"}},
      "layer":[
       {"transform":[{"filter":"datum.key == 'volt'"}],"mark":{"type":"text","align":"left","baseline":"middle","fontSize":31,"font":"Liberation Sans","color":"#231f20"}},
       {"transform":[{"filter":"datum.key == 'pct'"}],"mark":{"type":"text","align":"right","baseline":"middle","fontSize":31,"font":"Liberation Sans","color":"#231f20"}}]},
     {"width":533,"height":156,
      "layer":[
       {"data":{"name":"g4"},"mark":{"type":"line","stroke":"#9fd5f3","strokeWidth":2.8,"clip":true},
        "encoding":{"x":{"field":"t","type":"quantitative","scale":{"domain":[0,807],"nice":false,"zero":false},"axis":{"title":null,"values":[0,200,400,600],"tickCount":20}},
                    "y":{"field":"v","type":"quantitative","scale":{"domain":[332,528.4],"nice":false,"zero":false},"axis":{"title":null,"values":[332,367,402,437,472,507],"tickCount":20}}}},
       {"data":{"name":"g4"},"mark":{"type":"line","stroke":"#5585cc","strokeWidth":1.2,"clip":true},
        "encoding":{"x":{"field":"t","type":"quantitative"},"y":{"field":"v","type":"quantitative"}}},
       {"data":{"values":[{}]},"mark":{"type":"rule","color":"#a3a3a3","strokeWidth":1.6},
        "encoding":{"x":{"datum":0},"y":{"datum":332},"y2":{"datum":507}}},
       {"data":{"values":[{"label":"Group 4"}]},"mark":{"type":"text","align":"left","baseline":"middle","fontSize":14,"font":"Liberation Sans","color":"#231f20"},
        "encoding":{"x":{"datum":75.6},"y":{"datum":494.4},"text":{"field":"label"}}},
       {"data":{"values":[{"label":"ECG"}]},"mark":{"type":"text","align":"left","baseline":"middle","fontSize":14,"font":"Liberation Sans","color":"#231f20"},
        "encoding":{"x":{"datum":494.7},"y":{"datum":494.4},"text":{"field":"label"}}}]}
    ],"columns":2,"align":"none","spacing":90},
    {"concat":[
     {"width":379,"height":192,"view":{"fill":"#e6e7e8","stroke":null},
      "data":{"name":"stats"},"transform":[{"filter":"datum.g == 5"},{"fold":["volt","pct"]}],
      "encoding":{"x":{"field":"key","type":"nominal","scale":{"type":"point","domain":["volt","pct"],"padding":0.069,"align":0.587},"axis":null},
                  "y":{"field":"volt","type":"nominal","scale":{"type":"band","domain":["0V","1V","2V"],"paddingInner":0,"paddingOuter":1,"align":0.5},"axis":null},
                  "text":{"field":"value"}},
      "layer":[
       {"transform":[{"filter":"datum.key == 'volt'"}],"mark":{"type":"text","align":"left","baseline":"middle","fontSize":31,"font":"Liberation Sans","color":"#231f20"}},
       {"transform":[{"filter":"datum.key == 'pct'"}],"mark":{"type":"text","align":"right","baseline":"middle","fontSize":31,"font":"Liberation Sans","color":"#231f20"}}]},
     {"width":529,"height":177,
      "layer":[
       {"data":{"name":"g5"},"mark":{"type":"line","stroke":"#6fb0e4","strokeWidth":5,"clip":true},
        "encoding":{"x":{"field":"t","type":"quantitative","scale":{"domain":[0,1584],"nice":false,"zero":false},"axis":{"title":null,"values":[0,500,1000,1500],"tickCount":20}},
                    "y":{"field":"v","type":"quantitative","scale":{"domain":[316,419.25],"nice":false,"zero":false},"axis":{"title":null,"values":[316,335.6,355.2,374.8,394.4,414],"tickCount":20,"labelExpr":"toString(datum.value)","tickColor":"#707070"}}}},
       {"data":{"name":"g5"},"mark":{"type":"line","stroke":"#3f6fbd","strokeWidth":2,"clip":true},
        "encoding":{"x":{"field":"t","type":"quantitative"},"y":{"field":"v","type":"quantitative"}}},
       {"data":{"values":[{}]},"mark":{"type":"rule","color":"#707070","strokeWidth":2.2},
        "encoding":{"x":{"datum":0},"y":{"datum":316},"y2":{"datum":417}}},
       {"data":{"values":[{"label":"Group 5"}]},"mark":{"type":"text","align":"left","baseline":"middle","fontSize":14,"font":"Liberation Sans","color":"#231f20"},
        "encoding":{"x":{"datum":137.7},"y":{"datum":403.5},"text":{"field":"label"}}},
       {"data":{"values":[{"label":"ECG"}]},"mark":{"type":"text","align":"left","baseline":"middle","fontSize":14,"font":"Liberation Sans","color":"#231f20"},
        "encoding":{"x":{"datum":967},"y":{"datum":403.5},"text":{"field":"label"}}}]}
    ],"columns":2,"align":"none","spacing":81.5}
   ]}
  ]}
 ]}
]
}
